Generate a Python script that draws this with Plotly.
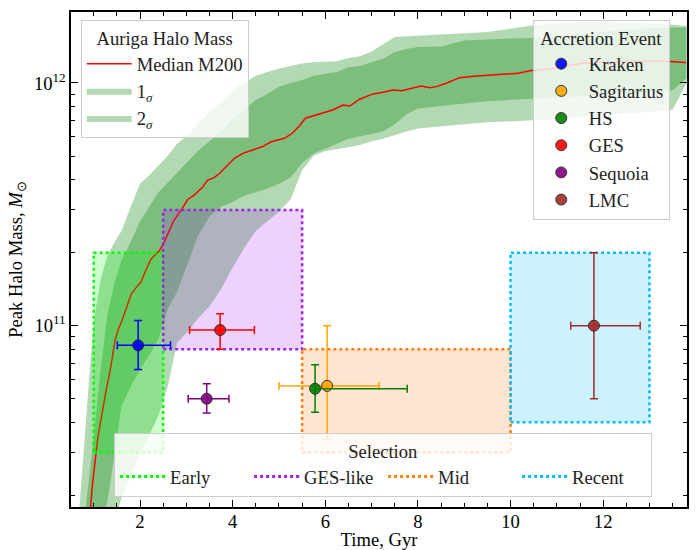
import plotly.graph_objects as go

# ---------------- data ----------------
# Median M200 of the Auriga haloes (time in Gyr, log10 mass in Msun)
median_t = [0.85, 0.93, 0.97, 1.09, 1.18, 1.27, 1.37, 1.46, 1.54, 1.59, 1.7, 1.81, 1.93, 2.02,
            2.13, 2.24, 2.32, 2.42, 2.5, 2.6, 2.72, 2.9, 3.03, 3.15, 3.24, 3.35, 3.46, 3.6,
            3.72, 3.88, 4.04, 4.22, 4.45, 4.65, 4.83, 5.12, 5.3, 5.45, 5.57, 5.85, 6.16,
            6.38, 6.53, 6.74, 7.03, 7.25, 7.46, 7.65, 7.79, 8.07, 8.25, 8.4, 8.61, 8.9,
            9.2, 9.55, 9.9, 10.16, 10.45, 10.84, 11.2, 11.56, 11.9, 12.28, 12.8, 13.36, 13.79]
median_logm = [10.05, 10.25, 10.34, 10.54, 10.64, 10.735, 10.83, 10.94, 10.99, 11.01, 11.07, 11.13, 11.16, 11.18,
               11.23, 11.275, 11.29, 11.31, 11.335, 11.38, 11.43, 11.48, 11.52, 11.535, 11.55, 11.57, 11.6, 11.61,
               11.628, 11.66, 11.69, 11.71, 11.725, 11.738, 11.758, 11.772, 11.795, 11.825, 11.855, 11.872, 11.889,
               11.909, 11.905, 11.933, 11.955, 11.962, 11.971, 11.968, 11.974, 11.988, 11.98, 11.985, 11.999, 12.022,
               12.028, 12.033, 12.036, 12.04, 12.051, 12.058, 12.07, 12.081, 12.085, 12.088, 12.09, 12.09, 12.084]

# Scatter bands (log10 mass)
band_t = [0.5, 0.7, 0.85, 1.0, 1.15, 1.3, 1.45, 1.6, 1.8, 2.0, 2.2, 2.4, 2.6, 2.8, 3.0, 3.25, 3.5,
          3.75, 4.0, 4.25, 4.5, 4.75, 5.0, 5.25, 5.5, 5.75, 6.0, 6.25, 6.5, 6.75, 7.0, 7.25, 7.5,
          7.75, 8.0, 8.5, 9.0, 9.5, 10.0, 10.5, 11.0, 11.5, 12.0, 12.5, 13.0, 13.5, 13.8]
sig2_up = [9.9, 10.27, 10.65, 11.02, 11.19, 11.29, 11.345, 11.39, 11.49, 11.585, 11.62, 11.66, 11.70, 11.75,
           11.78, 11.83, 11.88, 11.92, 11.97, 12.0, 12.03, 12.045, 12.06, 12.07, 12.08, 12.085, 12.087, 12.09,
           12.103, 12.11, 12.13, 12.16, 12.19, 12.193, 12.196, 12.2, 12.205, 12.21, 12.225, 12.238, 12.245,
           12.25, 12.25, 12.248, 12.245, 12.24, 12.235]
sig1_up = [9.7, 10.0, 10.29, 10.54, 10.82, 11.05, 11.176, 11.27, 11.345, 11.43, 11.49, 11.55, 11.59, 11.63,
           11.67, 11.72, 11.76, 11.8, 11.85, 11.89, 11.93, 11.955, 11.985, 12.0, 12.012, 12.03, 12.036, 12.045,
           12.065, 12.07, 12.085, 12.1, 12.128, 12.14, 12.148, 12.15, 12.175, 12.18, 12.183, 12.185, 12.19,
           12.2, 12.21, 12.22, 12.225, 12.23, 12.23]
sig1_lo = [9.6, 9.8, 9.95, 10.08, 10.17, 10.28, 10.47, 10.67, 10.75, 10.82, 10.88, 10.945, 11.07, 11.14,
           11.24, 11.37, 11.45, 11.49, 11.51, 11.535, 11.55, 11.565, 11.585, 11.61, 11.67, 11.71, 11.73, 11.75,
           11.77, 11.78, 11.79, 11.8, 11.83, 11.87, 11.895, 11.905, 11.915, 11.925, 11.93, 11.933, 11.94,
           11.945, 11.95, 11.955, 11.96, 11.97, 12.02]
sig2_lo = [9.5, 9.6, 9.7, 9.85, 9.95, 10.05, 10.2, 10.29, 10.38, 10.47, 10.55, 10.63, 10.75, 10.93,
           10.97, 11.03, 11.08, 11.15, 11.24, 11.32, 11.39, 11.43, 11.47, 11.52, 11.64, 11.70, 11.72, 11.728,
           11.735, 11.745, 11.76, 11.77, 11.785, 11.80, 11.812, 11.822, 11.83, 11.838, 11.842, 11.846, 11.85,
           11.86, 11.87, 11.875, 11.88, 11.89, 12.0]

# Accretion events
events = ["Kraken", "Sagitarius", "HS", "GES", "Sequoia", "LMC"]
event_colors = ["blue", "orange", "green", "red", "purple", "brown"]
event_t = [1.96, 6.04, 5.78, 3.73, 3.44, 11.8]
event_t_minus = [0.45, 1.04, 0.0, 0.66, 0.40, 0.5]
event_t_plus = [0.70, 1.12, 1.99, 0.74, 0.48, 1.0]
event_m = [8.3e10, 5.65e10, 5.5e10, 9.6e10, 5.0e10, 1.0e11]
event_m_lo = [6.6e10, 3.4e10, 4.4e10, 8.0e10, 4.37e10, 5.0e10]
event_m_hi = [1.05e11, 1.0e11, 6.9e10, 1.12e11, 5.77e10, 2.0e11]

# Selection windows
sel_names = ["Early", "GES-like", "Mid", "Recent"]
sel_colors = ["#00ff00", "#a020f0", "#ff7f0e", "#00bfff"]
sel_fill = ["rgba(0,255,0,0.2)", "rgba(160,32,240,0.2)", "rgba(255,127,14,0.2)", "rgba(0,191,255,0.2)"]
sel_t0 = [1.0, 2.5, 5.5, 10.0]
sel_t1 = [2.5, 5.5, 10.0, 13.0]
sel_m0 = [3e10, 8e10, 3e10, 4e10]
sel_m1 = [2e11, 3e11, 8e10, 2e11]

# ---------------- figure ----------------
FONT = "Liberation Serif"
FS = 18.6
fig = go.Figure()
band_col = "rgba(0,128,0,0.3)"

def poly(t, up, lo):
    xs = list(t) + list(t)[::-1]
    ys = [10 ** v for v in up] + [10 ** v for v in lo][::-1]
    return xs, ys

x2, y2 = poly(band_t, sig2_up, sig2_lo)
fig.add_trace(go.Scatter(x=x2, y=y2, fill="toself", fillcolor=band_col, mode="lines",
                         line=dict(width=0, color=band_col), name="2<sub><i>σ</i></sub>",
                         legend="legend", legendrank=3, hoverinfo="skip"))
x1, y1 = poly(band_t, sig1_up, sig1_lo)
fig.add_trace(go.Scatter(x=x1, y=y1, fill="toself", fillcolor=band_col, mode="lines",
                         line=dict(width=0, color=band_col), name="1<sub><i>σ</i></sub>",
                         legend="legend", legendrank=2, hoverinfo="skip"))
fig.add_trace(go.Scatter(x=median_t, y=[10 ** v for v in median_logm], mode="lines",
                         line=dict(color="red", width=1.5), name="Median M200",
                         legend="legend", legendrank=1))

for i in range(len(sel_names)):
    t0, t1, m0, m1 = sel_t0[i], sel_t1[i], sel_m0[i], sel_m1[i]
    fig.add_trace(go.Scatter(x=[t0, t1, t1, t0, t0], y=[m0, m0, m1, m1, m0], fill="toself",
                             fillcolor=sel_fill[i], mode="lines",
                             line=dict(color=sel_colors[i], width=2.5, dash="dot"),
                             showlegend=False, hoverinfo="skip"))

for i in range(len(events)):
    col = event_colors[i]
    fig.add_trace(go.Scatter(
        x=[event_t[i]], y=[event_m[i]], mode="markers", name=events[i], legend="legend2",
        legendgroup="ev%d" % i,
        marker=dict(size=11, color=col, opacity=0.9, line=dict(color="#222222", width=1)),
        error_x=dict(type="data", symmetric=False, array=[event_t_plus[i]],
                     arrayminus=[event_t_minus[i]], color=col, thickness=1.5, width=4),
        error_y=dict(type="data", symmetric=False, array=[event_m_hi[i] - event_m[i]],
                     arrayminus=[event_m[i] - event_m_lo[i]], color=col, thickness=1.5, width=4)))

for i in range(len(sel_names)):
    fig.add_trace(go.Scatter(x=[None], y=[None], mode="lines", name=sel_names[i], legend="legend3",
                             line=dict(color=sel_colors[i], width=3, dash="dot")))

lfont = dict(family=FONT, size=FS, color="#222222")
leg_common = dict(bgcolor="rgba(255,255,255,0.8)", bordercolor="#cccccc", borderwidth=1,
                  font=lfont, itemwidth=45)
tfont = dict(family=FONT, size=FS, color="black")

fig.update_layout(
    width=697, height=550,
    margin=dict(l=71, r=10, t=12, b=43),
    plot_bgcolor="white", paper_bgcolor="white",
    font=dict(family=FONT, size=FS, color="black"),
    xaxis=dict(range=[0.51, 13.81], tickvals=[2, 4, 6, 8, 10, 12], ticks="inside", ticklen=7,
               tickwidth=1, tickcolor="black", showline=True, linecolor="black", linewidth=1.5,
               mirror="ticks", showgrid=False, zeroline=False, tickfont=tfont, automargin=False,
               ticklabelstandoff=-3,
               minor=dict(dtick=0.5, ticks="inside", ticklen=4, tickcolor="black", showgrid=False),
               title=dict(text="Time, Gyr", standoff=0, font=tfont)),
    yaxis=dict(type="log", range=[10.253, 12.2925], tickvals=[1e11, 1e12],
               ticktext=["10<sup>11</sup>", "10<sup>12</sup>"], ticks="inside", ticklen=7,
               tickwidth=1, tickcolor="black", showline=True, linecolor="black", linewidth=1.5,
               mirror="ticks", showgrid=False, zeroline=False, tickfont=tfont, automargin=False,
               minor=dict(tickvals=[2e10, 3e10, 4e10, 5e10, 6e10, 7e10, 8e10, 9e10,
                                    2e11, 3e11, 4e11, 5e11, 6e11, 7e11, 8e11, 9e11],
                          ticks="inside", ticklen=4, tickcolor="black", showgrid=False),
               title=dict(text="Peak Halo Mass, <i>M</i><sub>⊙</sub>", font=tfont, standoff=6)),
    legend=dict(x=0.0157, y=0.984, xanchor="left", yanchor="top", traceorder="normal",
                title=dict(text="Auriga Halo Mass", side="top center", font=lfont), **leg_common),
    legend2=dict(x=0.972, y=0.984, xanchor="right", yanchor="top", traceorder="grouped",
                 tracegroupgap=0,
                 title=dict(text="Accretion Event", side="top center", font=lfont), **leg_common),
    legend3=dict(x=0.07, y=0.021, xanchor="left", yanchor="bottom", orientation="h",
                 entrywidth=74, title=dict(text="Selection", side="top center", font=lfont),
                 **leg_common),
)

fig.write_html("out.html", config={"displayModeBar": False},
               post_script="document.body.style.margin='0';document.body.style.overflow='hidden';")
